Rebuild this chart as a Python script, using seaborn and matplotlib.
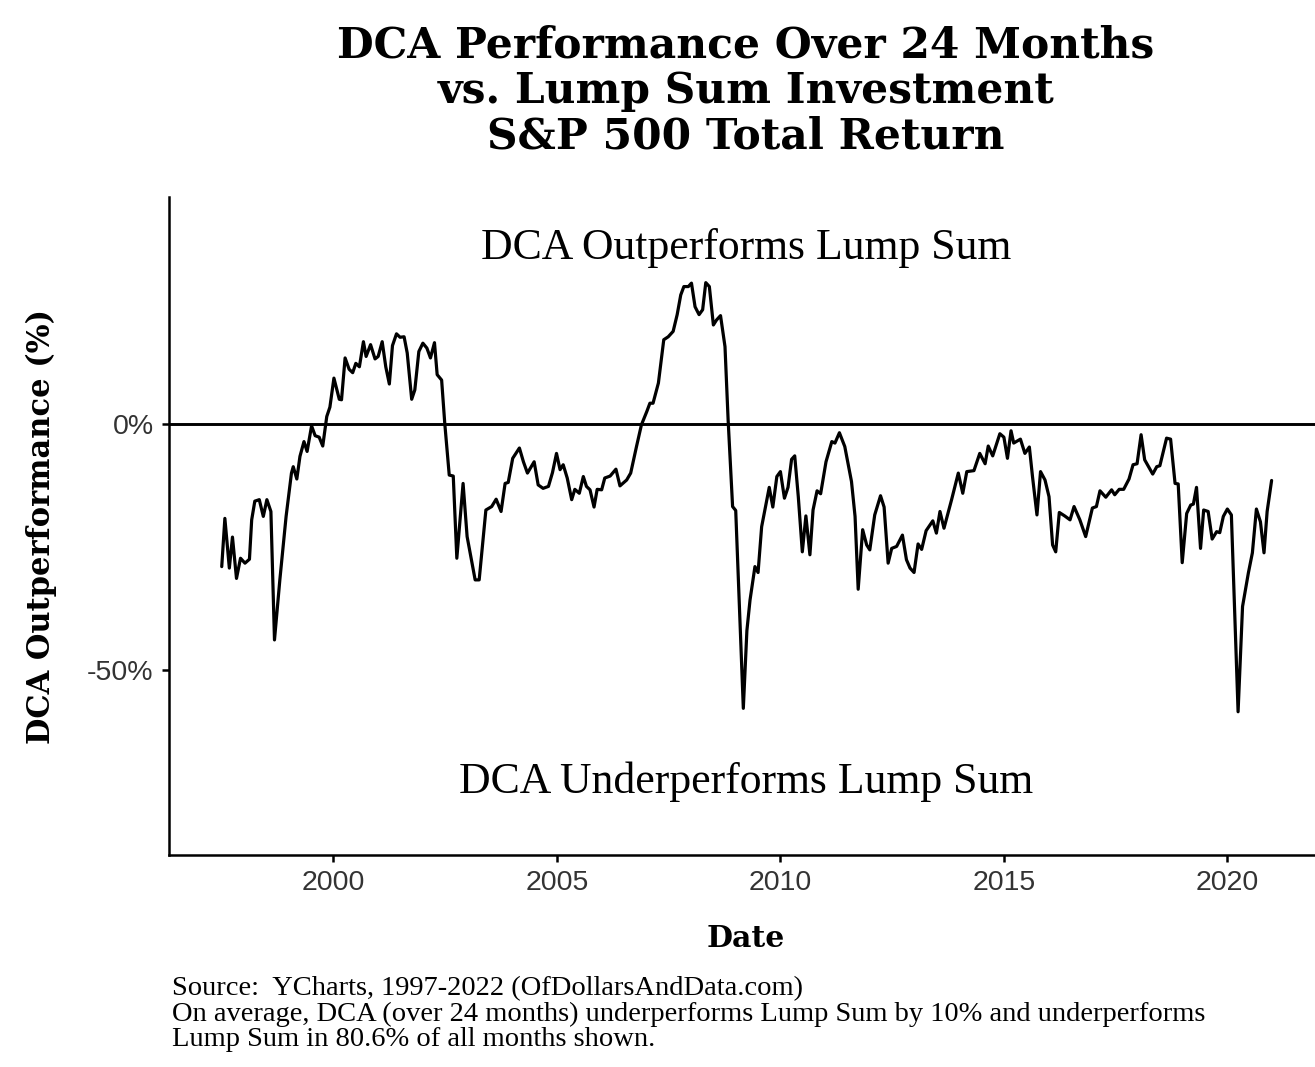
import matplotlib
matplotlib.use("Agg")
import matplotlib.pyplot as plt
import seaborn as sns
import pandas as pd

# DCA (24 months) vs lump sum: decimal year, outperformance in %
dca_year = [
    1997.50, 1997.57, 1997.67, 1997.74, 1997.83, 1997.92, 1998.02, 1998.12, 1998.17, 1998.24,
    1998.34, 1998.43, 1998.51, 1998.60, 1998.68, 1998.80, 1998.94, 1999.06, 1999.10, 1999.18,
    1999.25, 1999.34, 1999.41, 1999.51, 1999.59, 1999.68, 1999.76, 1999.85, 1999.92, 2000.01,
    2000.13, 2000.18, 2000.26, 2000.35, 2000.43, 2000.50, 2000.58, 2000.67, 2000.73, 2000.83,
    2000.93, 2001.00, 2001.09, 2001.17, 2001.25, 2001.32, 2001.41, 2001.49, 2001.58, 2001.65,
    2001.75, 2001.82, 2001.91, 2002.00, 2002.09, 2002.17, 2002.26, 2002.32, 2002.42, 2002.49,
    2002.59, 2002.68, 2002.76, 2002.90, 2002.99, 2003.17, 2003.26, 2003.41, 2003.54, 2003.64,
    2003.75, 2003.84, 2003.91, 2004.01, 2004.16, 2004.25, 2004.34, 2004.49, 2004.58, 2004.69,
    2004.81, 2004.90, 2004.99, 2005.07, 2005.14, 2005.23, 2005.33, 2005.40, 2005.50, 2005.59,
    2005.66, 2005.74, 2005.83, 2005.90, 2006.00, 2006.07, 2006.19, 2006.32, 2006.41, 2006.56,
    2006.65, 2006.78, 2006.89, 2007.01, 2007.08, 2007.15, 2007.27, 2007.39, 2007.49, 2007.60,
    2007.69, 2007.77, 2007.84, 2007.94, 2008.01, 2008.09, 2008.18, 2008.26, 2008.33, 2008.41,
    2008.50, 2008.57, 2008.66, 2008.76, 2008.83, 2008.93, 2009.00, 2009.17, 2009.25, 2009.32,
    2009.43, 2009.50, 2009.58, 2009.75, 2009.83, 2009.92, 2010.00, 2010.09, 2010.17, 2010.25,
    2010.32, 2010.40, 2010.49, 2010.57, 2010.66, 2010.73, 2010.82, 2010.90, 2011.02, 2011.15,
    2011.22, 2011.32, 2011.44, 2011.59, 2011.67, 2011.74, 2011.84, 2011.93, 2012.00, 2012.11,
    2012.24, 2012.32, 2012.41, 2012.49, 2012.60, 2012.73, 2012.82, 2012.90, 2012.99, 2013.08,
    2013.16, 2013.26, 2013.41, 2013.49, 2013.57, 2013.66, 2013.83, 2013.98, 2014.08, 2014.17,
    2014.33, 2014.46, 2014.58, 2014.65, 2014.75, 2014.91, 2015.00, 2015.08, 2015.16, 2015.22,
    2015.37, 2015.47, 2015.57, 2015.64, 2015.74, 2015.82, 2015.92, 2016.01, 2016.09, 2016.16,
    2016.24, 2016.36, 2016.48, 2016.57, 2016.70, 2016.83, 2016.98, 2017.07, 2017.15, 2017.28,
    2017.41, 2017.48, 2017.58, 2017.68, 2017.80, 2017.89, 2017.98, 2018.07, 2018.15, 2018.33,
    2018.42, 2018.49, 2018.64, 2018.73, 2018.83, 2018.90, 2018.99, 2019.09, 2019.18, 2019.24,
    2019.31, 2019.40, 2019.47, 2019.57, 2019.66, 2019.76, 2019.83, 2019.91, 2020.00, 2020.09,
    2020.24, 2020.34, 2020.47, 2020.56, 2020.65, 2020.74, 2020.82, 2020.89, 2020.99,
]
dca_pct = [
    -29.0, -19.2, -29.3, -23.0, -31.4, -27.3, -28.3, -27.5, -19.5, -15.7,
    -15.4, -18.8, -15.4, -17.8, -43.9, -31.7, -18.8, -10.0, -8.7, -11.2,
    -6.6, -3.6, -5.6, -0.4, -2.4, -2.7, -4.5, 1.5, 3.4, 9.3,
    5.0, 4.9, 13.4, 11.1, 10.4, 12.3, 11.6, 16.7, 13.7, 16.1,
    13.2, 13.7, 16.7, 11.6, 8.1, 15.9, 18.3, 17.6, 17.7, 14.4,
    5.0, 6.9, 14.7, 16.4, 15.4, 13.4, 16.5, 10.0, 8.9, 0.1,
    -10.4, -10.6, -27.3, -12.1, -22.9, -31.7, -31.7, -17.5, -16.8, -15.3,
    -17.8, -12.1, -11.9, -7.0, -4.9, -7.7, -10.0, -7.7, -12.4, -13.1,
    -12.7, -9.9, -6.0, -9.3, -8.3, -11.0, -15.4, -13.3, -14.1, -10.7,
    -12.7, -13.4, -16.9, -13.3, -13.4, -11.0, -10.6, -9.2, -12.6, -11.4,
    -10.0, -4.6, -0.2, 2.5, 4.2, 4.2, 8.3, 17.1, 17.7, 18.8,
    22.2, 26.2, 27.9, 27.9, 28.6, 23.8, 22.2, 23.2, 28.7, 27.9,
    20.1, 21.1, 22.0, 15.7, 0.8, -16.8, -17.6, -57.8, -42.0, -35.8,
    -29.0, -30.2, -20.9, -12.9, -16.9, -10.7, -9.7, -15.1, -12.9, -7.2,
    -6.5, -14.8, -26.0, -18.7, -26.6, -17.5, -13.6, -14.2, -7.7, -3.6,
    -3.9, -1.8, -4.6, -11.7, -18.8, -33.6, -21.5, -24.6, -25.6, -18.5,
    -14.6, -16.9, -28.3, -25.3, -24.9, -22.6, -27.6, -29.3, -30.2, -24.4,
    -25.5, -21.7, -19.7, -22.2, -17.8, -21.2, -15.4, -10.0, -14.1, -9.7,
    -9.5, -6.0, -8.1, -4.5, -6.5, -2.0, -2.7, -7.0, -1.4, -3.9,
    -3.1, -6.0, -4.7, -10.7, -18.5, -9.7, -11.4, -14.8, -24.6, -26.0,
    -18.0, -18.7, -19.5, -16.8, -19.5, -22.9, -17.1, -16.8, -13.6, -14.9,
    -13.4, -14.4, -13.3, -13.3, -11.2, -8.3, -8.1, -2.2, -7.3, -10.2,
    -8.7, -8.5, -2.9, -3.1, -12.1, -12.2, -28.2, -18.2, -16.5, -16.3,
    -12.9, -25.3, -17.5, -17.8, -23.4, -21.9, -22.1, -18.8, -17.3, -18.5,
    -58.5, -37.1, -30.3, -26.2, -17.3, -19.9, -26.2, -17.8, -11.5,
]

y_ticks = [0, -50]
y_tick_labels = ["0%", "-50%"]
x_ticks = [2000, 2005, 2010, 2015, 2020]

df = pd.DataFrame({"Date": dca_year, "Outperformance": dca_pct})

sns.set_theme(style="white")
plt.rcParams["text.color"] = "black"
plt.rcParams["axes.labelcolor"] = "black"
serif = ["Liberation Serif", "DejaVu Serif"]
title_font = ["DejaVu Serif"]

fig = plt.figure(figsize=(13.15, 10.67), dpi=100)
ax = fig.add_axes([169 / 1315, 1 - 855 / 1067, (1323 - 169) / 1315, (855 - 197) / 1067])

sns.lineplot(data=df, x="Date", y="Outperformance", ax=ax, color="black",
             linewidth=2.3, estimator=None)
ax.axhline(0, color="black", linewidth=2.1)

ax.set_xlim(1996.32, 2022.14)
ax.set_ylim(-87.6, 46.1)
ax.set_xticks(x_ticks)
ax.set_xticklabels([str(t) for t in x_ticks])
ax.set_yticks(y_ticks)
ax.set_yticklabels(y_tick_labels)

for side in ["top", "right"]:
    ax.spines[side].set_visible(False)
for side in ["left", "bottom"]:
    ax.spines[side].set_color("black")
    ax.spines[side].set_linewidth(1.8)

ax.tick_params(axis="both", which="both", length=5, width=1.8, color="black",
               labelsize=20.5, labelcolor="#333333", left=True, bottom=True, pad=6)
for lab in ax.get_xticklabels() + ax.get_yticklabels():
    lab.set_family(["Liberation Sans", "DejaVu Sans"])

ax.set_xlabel("Date", family=title_font, fontweight="bold", fontsize=21.5, labelpad=20)
ax.set_ylabel("DCA Outperformance (%)", family=title_font, fontweight="bold",
              fontsize=22, labelpad=22)

ax.text(0.5, 35.8, "DCA Outperforms Lump Sum", transform=ax.get_yaxis_transform(),
        ha="center", va="center", family=serif, fontsize=31.5)
ax.text(0.5, -72.8, "DCA Underperforms Lump Sum", transform=ax.get_yaxis_transform(),
        ha="center", va="center", family=serif, fontsize=31.5)

fig.text(746 / 1315, 1 - 91 / 1067,
         "DCA Performance Over 24 Months\nvs. Lump Sum Investment\nS&P 500 Total Return",
         ha="center", va="center", family=title_font, fontweight="bold",
         fontsize=30.5, linespacing=1.12)

fig.text(172 / 1315, 1 - 1014 / 1067,
         "Source:  YCharts, 1997-2022 (OfDollarsAndData.com)\n"
         "On average, DCA (over 24 months) underperforms Lump Sum by 10% and underperforms\n"
         "Lump Sum in 80.6% of all months shown.",
         ha="left", va="center", family=serif, fontsize=20.5, linespacing=1.0)

fig.savefig("out.png", dpi=100)
